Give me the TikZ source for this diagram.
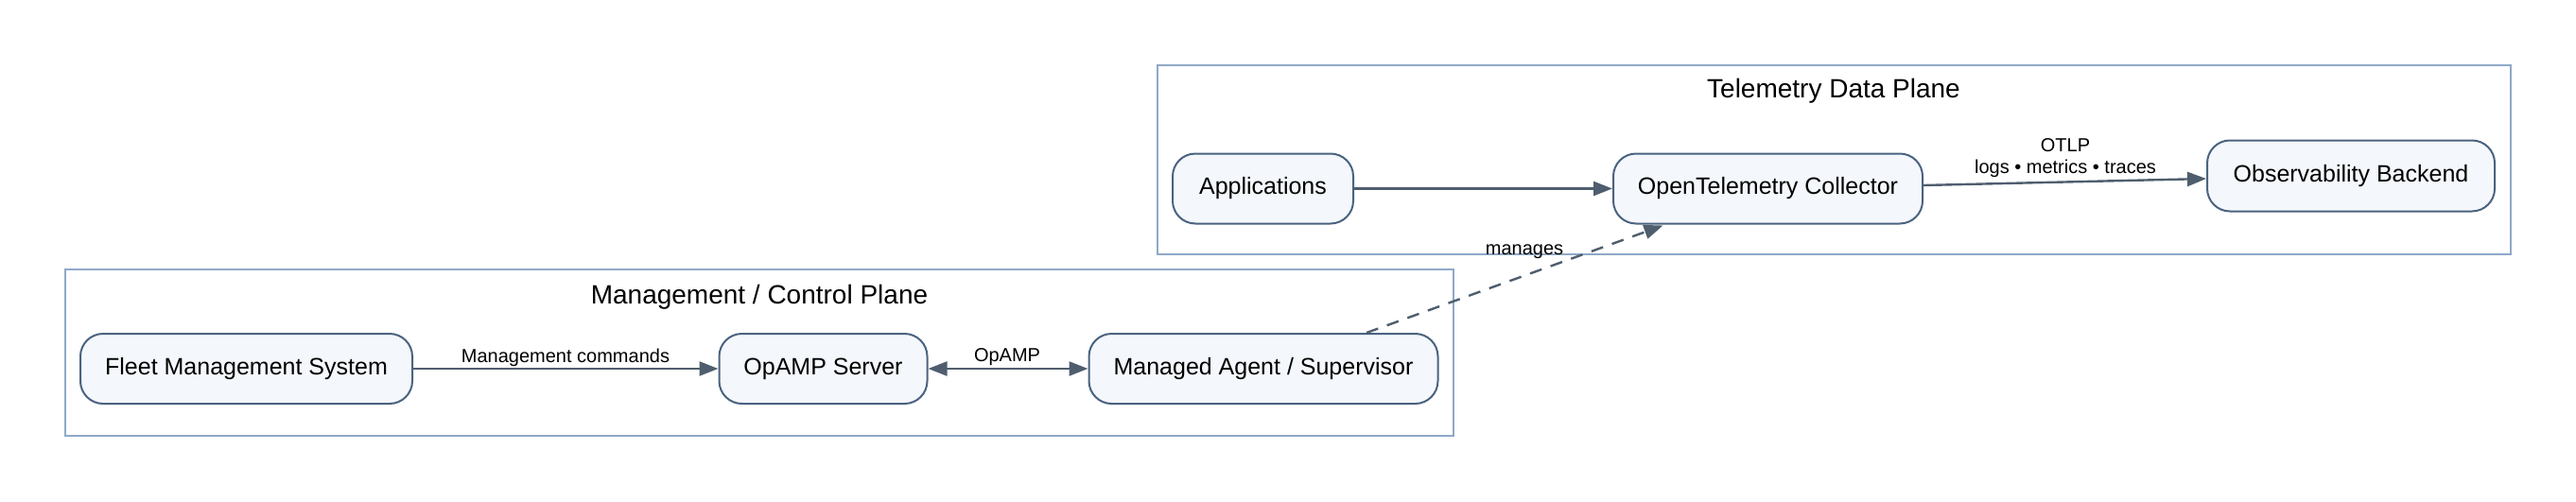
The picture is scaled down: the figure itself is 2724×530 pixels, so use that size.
\documentclass[tikz,border=0pt]{standalone}
\usepackage{fontspec}
\setmainfont{Liberation Sans}
\usetikzlibrary{arrows.meta,calc}
\definecolor{nodefill}{HTML}{F4F7FB}
\definecolor{nodeline}{HTML}{4A6380}
\definecolor{clusterline}{HTML}{8FA9C8}
\definecolor{edgecol}{HTML}{4F5E6E}
\begin{document}
\begin{tikzpicture}[x=0.5pt,y=-0.5pt,
  box/.style={draw=nodeline, fill=nodefill, line width=1pt, rounded corners=12pt,
    minimum height=37pt, inner sep=0pt, font=\fontsize{12.5}{15}\selectfont},
  cluster/.style={draw=clusterline, line width=1pt, inner sep=0pt},
  edge/.style={draw=edgecol, line width=1.2pt, -{Triangle[length=10pt,width=7.5pt]}},
  elabel/.style={font=\fontsize{10}{12}\selectfont, inner sep=0pt},
  ctitle/.style={font=\fontsize{14}{17}\selectfont, inner sep=0pt}]
\useasboundingbox (0,0) rectangle (2724,530);
% clusters
\node[cluster, minimum width=715.5pt, minimum height=100pt] (tdp) at (1939.5,169) {};
\node[cluster, minimum width=734pt, minimum height=88pt] (mcp) at (803,373) {};
\node[ctitle] (tdptitle) at (1939,96) {Telemetry Data Plane};
\node[ctitle] (mcptitle) at (803,314) {Management / Control Plane};
% nodes
\node[box, minimum width=95.5pt] (apps) at (1335.5,199.5) {Applications};
\node[box, minimum width=163.5pt] (coll) at (1869.5,199.5) {OpenTelemetry Collector};
\node[box, minimum width=152pt, minimum height=37.5pt] (back) at (2486,186) {Observability Backend};
\node[box, minimum width=175.5pt] (fleet) at (260.5,390) {Fleet Management System};
\node[box, minimum width=110pt] (opamp) at (870.5,390) {OpAMP Server};
\node[box, minimum width=184.5pt] (agent) at (1336,390) {Managed Agent / Supervisor};
% edges
\draw[edge] (apps.east) -- (coll.west);
\draw[edge] ($(coll.east)+(0,-3.5)$) -- ($(back.west)+(0,3)$);
\draw[edge] (fleet.east) -- (opamp.west);
\draw[edge, {Triangle[length=10pt,width=7.5pt]}-{Triangle[length=10pt,width=7.5pt]}] (opamp.east) -- (agent.west);
\coordinate (dashstart) at ($(agent.north)+(109,0)$);
\coordinate (dashend) at ($(coll.south)+(-111,1)$);
\draw[edge, dash pattern=on 6.5pt off 5pt] (dashstart) -- (dashend);
% labels
\node[elabel] (lblotlp) at (2184,154) {OTLP};
\node[elabel] (lbllogs) at (2184,178) {logs • metrics • traces};
\node[elabel] (lblmgmt) at (598,378) {Management commands};
\node[elabel] (lblopamp) at (1065,378) {OpAMP};
\node[elabel] (lblman) at (1612,266) {manages};
\end{tikzpicture}
\end{document}
